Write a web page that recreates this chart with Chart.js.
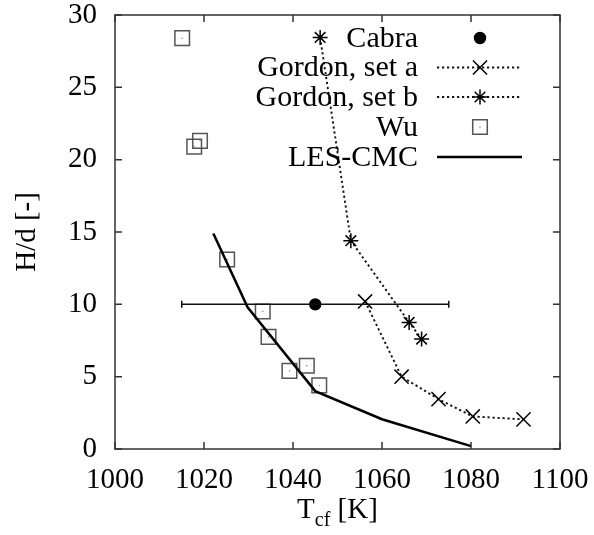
<!DOCTYPE html>
<html>
<head>
<meta charset="utf-8">
<script src="https://cdn.jsdelivr.net/npm/chart.js@4/dist/chart.umd.min.js"></script>
<style>
  html, body { margin: 0; padding: 0; background: #fff; }
  #wrap { width: 594px; height: 535px; }
</style>
</head>
<body>
<div id="wrap"><canvas id="c" width="594" height="535"></canvas></div>
<script>
// ---- data ----
const xTicks = [1000, 1020, 1040, 1060, 1080, 1100];
const yTicks = [0, 5, 10, 15, 20, 25, 30];

const cabraX = [1045];
const cabraY = [10];
const cabraErrLow = [1015];
const cabraErrHigh = [1075];

const gordonAX = [1056.2, 1064.4, 1072.7, 1080.4, 1091.8];
const gordonAY = [10.2, 5.0, 3.45, 2.25, 2.05];

const gordonBX = [1046.1, 1053.0, 1066.1, 1068.9];
const gordonBY = [28.45, 14.4, 8.75, 7.6];

const wuX = [1015.1, 1017.8, 1019.1, 1025.2, 1033.2, 1034.5, 1039.2, 1043.1, 1045.9];
const wuY = [28.4, 20.9, 21.3, 13.1, 9.5, 7.75, 5.4, 5.75, 4.4];

const lesX = [1022.1, 1029.8, 1045.0, 1060.0, 1080.0];
const lesY = [14.9, 9.8, 4.0, 2.06, 0.2];

const labels = ["Cabra", "Gordon, set a", "Gordon, set b", "Wu", "LES-CMC"];

// ---- helpers ----
const pts = (xs, ys) => xs.map((x, i) => ({ x: x, y: ys[i] }));
const FONT = '"Liberation Serif", "DejaVu Serif", serif';

const datasets = [
  { key: "LES-CMC", data: pts(lesX, lesY),
    showLine: true, borderColor: "#000", borderWidth: 2.5,
    pointRadius: 0, pointHoverRadius: 0, fill: false, tension: 0 },
  { key: "err",
    data: [{ x: cabraErrLow[0], y: cabraY[0] }, { x: cabraErrHigh[0], y: cabraY[0] }],
    showLine: true, borderColor: "#111", borderWidth: 1.5,
    pointStyle: "line", pointRotation: 90, pointRadius: 3.5,
    pointBorderColor: "#111", pointBorderWidth: 1.5 },
  { key: "Cabra", data: pts(cabraX, cabraY),
    showLine: false, pointStyle: "circle", pointRadius: 6.2,
    pointBackgroundColor: "#000", pointBorderColor: "#000", pointBorderWidth: 0 },
  { key: "Gordon, set a", data: pts(gordonAX, gordonAY),
    showLine: true, borderColor: "#111", borderWidth: 1.9, borderDash: [2.2, 2.8],
    pointStyle: "crossRot", pointRadius: 10, pointBorderColor: "#000", pointBorderWidth: 1.5 },
  { key: "Gordon, set b", data: pts(gordonBX, gordonBY),
    showLine: true, borderColor: "#111", borderWidth: 1.9, borderDash: [2.2, 2.8],
    pointStyle: "star", pointRadius: 7.5, pointBorderColor: "#000", pointBorderWidth: 1.5 },
  { key: "Wu", data: pts(wuX, wuY),
    showLine: false, pointStyle: "rect", pointRadius: 10.3,
    pointBackgroundColor: "rgba(0,0,0,0)", pointBorderColor: "#555", pointBorderWidth: 1.5 },
  { key: "wudot", data: pts(wuX, wuY),
    showLine: false, pointStyle: "circle", pointRadius: 0.7,
    pointBackgroundColor: "#777", pointBorderColor: "#777", pointBorderWidth: 0 }
];

const framePlugin = {
  id: "frame",
  afterDatasetsDraw(chart) {
    const { ctx, chartArea: a, scales } = chart;
    ctx.save();
    ctx.strokeStyle = "#333";
    ctx.lineWidth = 1.5;
    ctx.strokeRect(a.left, a.top, a.right - a.left, a.bottom - a.top);
    const tl = 7;
    ctx.beginPath();
    xTicks.forEach(v => {
      const px = scales.x.getPixelForValue(v);
      ctx.moveTo(px, a.bottom); ctx.lineTo(px, a.bottom - tl);
      ctx.moveTo(px, a.top); ctx.lineTo(px, a.top + tl);
    });
    yTicks.forEach(v => {
      const py = scales.y.getPixelForValue(v);
      ctx.moveTo(a.left, py); ctx.lineTo(a.left + tl, py);
      ctx.moveTo(a.right, py); ctx.lineTo(a.right - tl, py);
    });
    ctx.stroke();

    // x-axis title with subscript
    ctx.fillStyle = "#000";
    ctx.textBaseline = "alphabetic";
    ctx.textAlign = "left";
    const big = "29px " + FONT, small = "20px " + FONT;
    ctx.font = big; const wT = ctx.measureText("T").width;
    const wRest = ctx.measureText(" [K]").width;
    ctx.font = small; const wSub = ctx.measureText("cf").width;
    const total = wT + wSub + wRest;
    const x0 = (a.left + a.right) / 2 - total / 2;
    const base = 518;
    ctx.font = big; ctx.fillText("T", x0, base);
    ctx.font = small; ctx.fillText("cf", x0 + wT, base + 8);
    ctx.font = big; ctx.fillText(" [K]", x0 + wT + wSub, base);
    ctx.restore();
  },
  afterDraw(chart) {
    const { ctx } = chart;
    const rowY = [38, 67.5, 97, 127, 157];
    const textRight = 418, lineL = 437, lineR = 522, mx = 480;
    ctx.save();
    labels.forEach((lab, i) => {
      const ds = chart.data.datasets.find(d => d.key === lab);
      const y = rowY[i];
      ctx.fillStyle = "#000";
      ctx.font = "30px " + FONT;
      ctx.textAlign = "right";
      ctx.textBaseline = "middle";
      ctx.fillText(lab, textRight, y + 1);
      if (ds.showLine) {
        ctx.beginPath();
        ctx.strokeStyle = ds.borderColor;
        ctx.lineWidth = ds.borderWidth;
        ctx.setLineDash(ds.borderDash || []);
        ctx.moveTo(lineL, y); ctx.lineTo(lineR, y);
        ctx.stroke();
        ctx.setLineDash([]);
      }
      if (ds.pointRadius > 0) {
        ctx.strokeStyle = ds.pointBorderColor || "#000";
        ctx.fillStyle = ds.pointBackgroundColor || "#000";
        ctx.lineWidth = ds.pointBorderWidth || 1;
        Chart.helpers.drawPoint(ctx, {
          pointStyle: ds.pointStyle, radius: ds.pointRadius,
          rotation: ds.pointRotation || 0, borderWidth: ds.pointBorderWidth || 0
        }, mx, y);
        if (lab === "Wu") {
          ctx.fillStyle = "#777";
          Chart.helpers.drawPoint(ctx, { pointStyle: "circle", radius: 0.7, rotation: 0, borderWidth: 0 }, mx, y);
        }
      }
    });
    ctx.restore();
  }
};

new Chart(document.getElementById("c"), {
  type: "scatter",
  data: { datasets: datasets },
  options: {
    responsive: false,
    animation: false,
    devicePixelRatio: 1,
    layout: { padding: { top: 15, right: 34, left: 0, bottom: 0 }, autoPadding: false },
    plugins: { legend: { display: false }, tooltip: { enabled: false } },
    elements: { line: { tension: 0 } },
    scales: {
      x: {
        type: "linear", min: 1000, max: 1100,
        afterBuildTicks: s => { s.ticks = xTicks.map(v => ({ value: v })); },
        afterFit: s => { s.height = 86; s.paddingRight = 0; s.paddingLeft = 0; },
        grid: { display: false, drawTicks: false },
        border: { display: false },
        ticks: { color: "#000", font: { family: FONT, size: 29 }, padding: 14, maxRotation: 0, autoSkip: false,
                 callback: v => String(v) },
        title: { display: false }
      },
      y: {
        type: "linear", min: 0, max: 30,
        afterBuildTicks: s => { s.ticks = yTicks.map(v => ({ value: v })); },
        afterFit: s => { s.width = 115; s.paddingTop = 0; s.paddingBottom = 0; },
        grid: { display: false, drawTicks: false },
        border: { display: false },
        ticks: { color: "#000", font: { family: FONT, size: 29 }, padding: 18, autoSkip: false,
                 callback: v => String(v) },
        title: { display: true, text: "H/d [-]", color: "#000", font: { family: FONT, size: 29 }, padding: { top: 10, bottom: 0 } }
      }
    }
  },
  plugins: [framePlugin]
});
</script>
</body>
</html>
